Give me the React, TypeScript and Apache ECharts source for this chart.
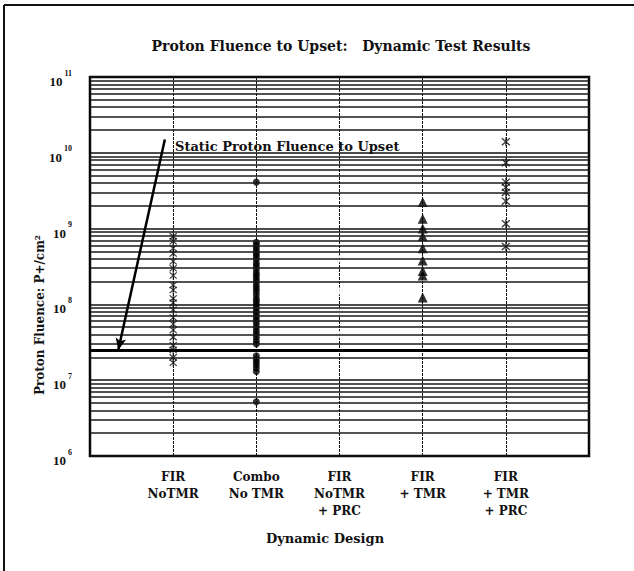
import React, { useEffect, useRef } from "react";
import * as echarts from "echarts";

const categories = ["FIR\nNoTMR", "Combo\nNo TMR", "FIR\nNoTMR\n+ PRC", "FIR\n+ TMR", "FIR\n+ TMR\n+ PRC"];

const firNoTmr = [7.9e8, 6.8e8, 5.5e8, 4.7e8, 3.7e8, 3.0e8, 2.4e8, 1.8e8, 1.55e8, 1.2e8, 1.05e8, 8.5e7, 6.7e7, 5.5e7, 4.6e7, 3.7e7, 2.9e7, 2.5e7, 2.0e7, 1.7e7];
const comboNoTmr = [4.1e9, 6.6e8, 6.1e8, 5.6e8, 5.1e8, 4.7e8, 4.3e8, 3.9e8, 3.5e8, 3.2e8, 2.9e8, 2.6e8, 2.4e8, 2.2e8, 2.0e8, 1.8e8, 1.65e8, 1.5e8, 1.35e8, 1.2e8, 1.1e8, 1.0e8, 9.0e7, 8.2e7, 7.5e7, 6.8e7, 6.2e7, 5.6e7, 5.0e7, 4.5e7, 4.1e7, 3.7e7, 3.3e7, 3.0e7, 2.1e7, 1.9e7, 1.75e7, 1.6e7, 1.45e7, 1.3e7, 5.2e6];
const firNoTmrPrc = [4.0e8, 1.5e8, 8.0e7, 4.0e7];
const firTmr = [2.25e9, 1.35e9, 1.0e9, 7.9e8, 5.5e8, 3.8e8, 2.75e8, 2.4e8, 1.23e8];
const firTmrPrc = [1.4e10, 7.4e9, 4.1e9, 3.5e9, 3.0e9, 2.3e9, 1.16e9, 5.8e8];

const staticFluence = 2.5e7;
const arrowFrom = [0.9, 1.5e10];
const arrowTo = [0.34, 2.5e7];
const minorMultipliers = [2, 3, 4, 5, 6, 7, 8, 9];
const decades = [1e6, 1e7, 1e8, 1e9, 1e10];

const SERIF = "'Liberation Serif', 'DejaVu Serif', serif";
const WIDE = "'DejaVu Serif', 'Liberation Serif', serif";
const ASTERISK =
  "path://M4.4 0h1.2v10h-1.2z M0.6 1.6L1.6 0.6L9.4 8.4L8.4 9.4Z M8.4 0.6L9.4 1.6L1.6 9.4L0.6 8.4Z";

export default function App() {
  const ref = useRef<HTMLDivElement>(null);
  useEffect(() => {
    if (!ref.current) return;
    const chart = echarts.init(ref.current, null, { renderer: "svg" });
    const minorLines: any[] = [];
    decades.forEach((d) => minorMultipliers.forEach((m) => minorLines.push({ yAxis: m * d })));
    const col = (i: number, arr: number[]) => arr.map((v) => [i, v]);
    chart.setOption({
      animation: false,
      backgroundColor: "#fff",
      title: {
        text: "Proton Fluence to Upset:   Dynamic Test Results",
        left: 336,
        textAlign: "center",
        top: 34,
        textStyle: { fontFamily: WIDE, fontWeight: "bold", fontSize: 14, color: "#111" },
      },
      grid: {
        left: 90,
        right: 45,
        top: 77,
        bottom: 115,
        show: true,
        borderColor: "#000",
        borderWidth: 2.5,
        backgroundColor: "transparent",
      },
      xAxis: {
        type: "value",
        min: 0,
        max: 6,
        interval: 1,
        axisLine: { show: false },
        axisTick: { show: false },
        splitLine: { show: true, lineStyle: { color: "#111", width: 1, type: [3, 1] } },
        axisLabel: {
          margin: 12,
          formatter: (v: number) => categories[v - 1] ?? "",
          fontFamily: WIDE,
          fontWeight: "bold",
          fontSize: 12,
          lineHeight: 17,
          color: "#111",
        },
      },
      yAxis: {
        type: "log",
        logBase: 10,
        min: 1e6,
        max: 1e11,
        axisLine: { show: false },
        axisTick: { show: false },
        splitLine: { show: true, lineStyle: { color: "#111", width: 1.5 } },
        axisLabel: {
          margin: 18,
          formatter: (v: number) => `{b|10}{s|${Math.round(Math.log10(v))}}`,
          rich: {
            b: { fontFamily: SERIF, fontWeight: "bold", fontSize: 13, color: "#111", lineHeight: 22, verticalAlign: "bottom", padding: [10, 0, 0, 0] },
            s: { fontFamily: SERIF, fontWeight: "bold", fontSize: 8, color: "#111", lineHeight: 22, verticalAlign: "top", padding: [3, 0, 0, 2] },
          },
        },
      },
      graphic: [
        { type: "line", shape: { x1: 4, y1: 5, x2: 4, y2: 571 }, style: { stroke: "#111", lineWidth: 2 } },
        { type: "line", shape: { x1: 4, y1: 5, x2: 634, y2: 5 }, style: { stroke: "#111", lineWidth: 2 } },
        {
          type: "text",
          x: 40,
          y: 315,
          rotation: Math.PI / 2,
          style: {
            text: "Proton Fluence: P+/cm²",
            fontFamily: WIDE,
            fontWeight: "bold",
            fontSize: 12,
            fill: "#111",
            align: "center",
            verticalAlign: "middle",
          },
        },
        {
          type: "text",
          x: 325,
          y: 538,
          style: {
            text: "Dynamic Design",
            fontFamily: WIDE,
            fontWeight: "bold",
            fontSize: 13,
            fill: "#111",
            align: "center",
            verticalAlign: "middle",
          },
        },
        {
          type: "text",
          x: 175,
          y: 146,
          style: {
            text: "Static Proton Fluence to Upset",
            fontFamily: WIDE,
            fontWeight: "bold",
            fontSize: 13,
            fill: "#111",
            align: "left",
            verticalAlign: "middle",
          },
        },
      ],
      series: [
        {
          type: "scatter",
          data: [],
          silent: true,
          markLine: {
            silent: true,
            symbol: "none",
            label: { show: false },
            lineStyle: { color: "#1a1a1a", width: 1.5, type: "solid" },
            data: minorLines,
          },
        },
        {
          type: "scatter",
          data: [],
          silent: true,
          markLine: {
            silent: true,
            symbol: "none",
            label: { show: false },
            lineStyle: { color: "#000", width: 3, type: "solid" },
            data: [{ yAxis: staticFluence }],
          },
        },
        {
          type: "scatter",
          data: [],
          silent: true,
          markLine: {
            silent: true,
            symbol: ["none", "arrow"],
            symbolSize: [8, 12],
            label: { show: false },
            lineStyle: { color: "#000", width: 2.5, type: "solid" },
            data: [[{ coord: arrowFrom }, { coord: arrowTo }]],
          },
        },
        {
          name: categories[0],
          type: "scatter",
          symbol: ASTERISK,
          symbolSize: 8,
          itemStyle: { color: "#111" },
          data: col(1, firNoTmr),
        },
        {
          name: categories[1],
          type: "scatter",
          symbol: "circle",
          symbolSize: 7,
          itemStyle: { color: "#000" },
          data: col(2, comboNoTmr),
        },
        {
          name: categories[2],
          type: "scatter",
          symbol: "circle",
          symbolSize: 7,
          itemStyle: { color: "#fff", borderColor: "#ddd", borderWidth: 0.5 },
          data: col(3, firNoTmrPrc),
        },
        {
          name: categories[3],
          type: "scatter",
          symbol: "triangle",
          symbolSize: 10,
          itemStyle: { color: "#000" },
          data: col(4, firTmr),
        },
        {
          name: categories[4],
          type: "scatter",
          symbol: ASTERISK,
          symbolSize: 9,
          itemStyle: { color: "#111" },
          data: col(5, firTmrPrc),
        },
      ],
    });
    return () => chart.dispose();
  }, []);
  return <div ref={ref} style={{ width: 634, height: 571, position: "absolute", left: 0, top: 0 }} />;
}
